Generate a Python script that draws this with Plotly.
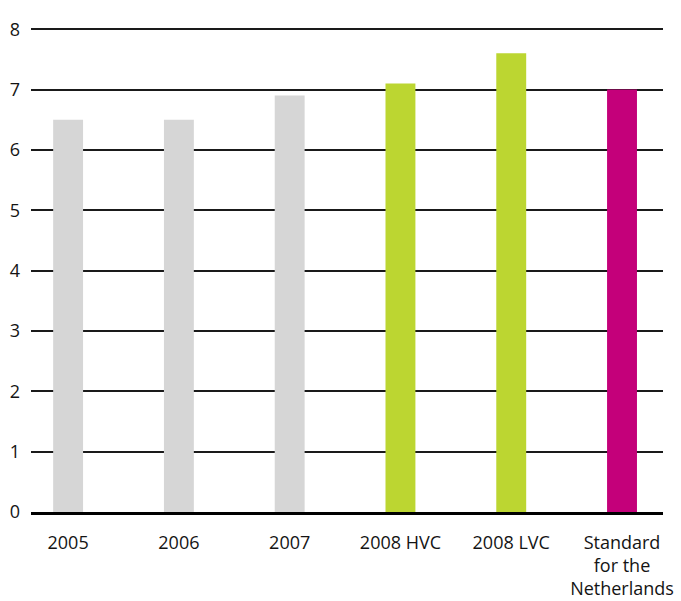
import plotly.graph_objects as go

# Scores per year and the national standard
categories = ["2005", "2006", "2007", "2008 HVC", "2008 LVC", "Standard<br>for the<br>Netherlands"]
values = [6.5, 6.5, 6.9, 7.1, 7.6, 7.0]
bar_colors = ["#d6d6d6", "#d6d6d6", "#d6d6d6", "#bcd631", "#bcd631", "#c4007a"]
y_ticks = [0, 1, 2, 3, 4, 5, 6, 7, 8]

FONT = "'Open Sans', Lato, sans-serif"

fig = go.Figure(
    go.Bar(
        x=list(range(len(categories))),
        y=values,
        marker=dict(color=bar_colors, line=dict(width=0)),
        width=0.27,
        hoverinfo="skip",
    )
)

fig.update_layout(
    width=681,
    height=601,
    margin=dict(l=31, r=18, t=28, b=89),
    paper_bgcolor="white",
    plot_bgcolor="white",
    showlegend=False,
    font=dict(family=FONT, size=18, color="#141414"),
    xaxis=dict(
        range=[-0.335, 5.37],
        tickmode="array",
        tickvals=list(range(len(categories))),
        ticktext=categories,
        showgrid=False,
        zeroline=False,
        showline=True,
        linecolor="#000000",
        linewidth=3,
        ticks="",
        ticklabelstandoff=12,
        automargin=False,
        fixedrange=True,
    ),
    yaxis=dict(
        # a sliver of headroom keeps the top gridline visible
        range=[0, 8.02],
        tickmode="array",
        tickvals=y_ticks,
        showgrid=True,
        gridcolor="#1a1a1a",
        gridwidth=1.5,
        zeroline=False,
        showline=False,
        ticks="",
        ticklabelstandoff=10,
        automargin=False,
        fixedrange=True,
    ),
)

fig.write_html("out.html")
